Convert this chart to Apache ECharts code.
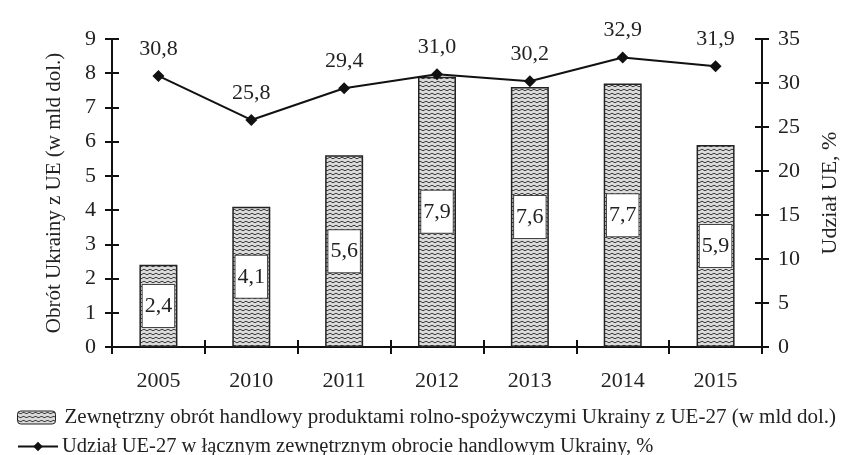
<!DOCTYPE html>
<html>
<head>
<meta charset="utf-8">
<script src="https://cdn.jsdelivr.net/npm/echarts@6/dist/echarts.min.js"></script>
<style>
html,body{margin:0;padding:0;background:#fff;}
#c{width:844px;height:455px;}
</style>
</head>
<body>
<div id="c"></div>
<script>
const years = ['2005','2010','2011','2012','2013','2014','2015'];
const tradeValues = [2.4, 4.1, 5.6, 7.9, 7.6, 7.7, 5.9];
const shareValues = [30.8, 25.8, 29.4, 31.0, 30.2, 32.9, 31.9];
const barName = 'Zewnętrzny obrót handlowy produktami rolno-spożywczymi Ukrainy z UE-27 (w mld dol.)';
const lineName = 'Udział UE-27 w łącznym zewnętrznym obrocie handlowym Ukrainy, %';
const leftTitle = 'Obrót Ukrainy z UE (w mld dol.)';
const rightTitle = 'Udział UE, %';

const FONT = '"Liberation Serif", "DejaVu Serif", serif';
const TXT = '#222';
const AX = '#111';

function makePattern() {
  const c = document.createElement('canvas');
  c.width = 6; c.height = 4;
  const ctx = c.getContext('2d');
  ctx.fillStyle = '#dcdcdc';
  ctx.fillRect(0, 0, 6, 4);
  ctx.strokeStyle = '#3a3a3a';
  ctx.lineWidth = 1;
  ctx.beginPath();
  ctx.moveTo(0, 1.2);
  ctx.lineTo(3, 2.8);
  ctx.lineTo(6, 1.2);
  ctx.stroke();
  return c;
}
const pattern = { image: makePattern(), repeat: 'repeat' };
const fmt = v => Number(v).toFixed(1).replace('.', ',');

const chart = echarts.init(document.getElementById('c'), null, { renderer: 'canvas' });

const yBase = (pos, max, interval, ticksInside, name, gap, nameSize) => ({
  type: 'value', position: pos, min: 0, max: max, interval: interval,
  axisLine: { show: !ticksInside, lineStyle: { color: AX, width: 2 } },
  axisTick: { show: true, inside: ticksInside, length: 7, lineStyle: { color: AX, width: 2 } },
  axisLabel: { show: !ticksInside, margin: 16, fontSize: 22, color: TXT, fontFamily: FONT },
  splitLine: { show: false },
  name: ticksInside ? '' : name,
  nameLocation: 'middle', nameGap: gap, nameRotate: 90,
  nameTextStyle: { fontSize: nameSize, color: TXT, fontFamily: FONT }
});

chart.setOption({
  animation: false,
  backgroundColor: '#fff',
  grid: { left: 112, right: 82, top: 39, bottom: 108, containLabel: false, outerBoundsMode: 'none' },
  xAxis: [
    {
      type: 'category', data: years, position: 'bottom',
      axisLine: { lineStyle: { color: AX, width: 2 } },
      axisTick: { show: true, inside: false, length: 7, lineStyle: { color: AX, width: 2 } },
      axisLabel: { margin: 23, fontSize: 22, color: TXT, fontFamily: FONT }
    },
    {
      type: 'category', data: years, position: 'bottom',
      axisLine: { show: false },
      axisTick: { show: true, inside: true, length: 7, lineStyle: { color: AX, width: 2 } },
      axisLabel: { show: false }
    }
  ],
  yAxis: [
    yBase('left', 9, 1, false, leftTitle, 47, 21),
    yBase('right', 35, 5, false, rightTitle, 57, 22),
    yBase('left', 9, 1, true, '', 0, 20),
    yBase('right', 35, 5, true, '', 0, 20)
  ],
  legend: [
    {
      data: [barName], left: 12, top: 402, orient: 'horizontal',
      itemWidth: 38, itemHeight: 13,
      itemStyle: { borderColor: '#222', borderWidth: 1 },
      textStyle: { fontSize: 21, color: TXT, fontFamily: FONT, padding: [0, 0, 0, 4] }
    },
    {
      data: [lineName], left: 12, top: 431, orient: 'horizontal',
      itemWidth: 40, itemHeight: 12,
      textStyle: { fontSize: 20.5, color: TXT, fontFamily: FONT, padding: [0, 0, 0, -1] }
    }
  ],
  series: [
    {
      name: barName, type: 'bar', xAxisIndex: 0, yAxisIndex: 0,
      data: tradeValues, barWidth: 38,
      itemStyle: { color: pattern, borderColor: '#222', borderWidth: 1.5 },
      label: {
        show: true, position: 'inside', formatter: p => fmt(p.value),
        backgroundColor: '#fff', borderColor: '#444', borderWidth: 1,
        padding: [11, 2, 9, 2], fontSize: 22, color: TXT, fontFamily: FONT
      }
    },
    {
      name: lineName, type: 'line', xAxisIndex: 0, yAxisIndex: 1,
      data: shareValues, symbol: 'diamond', symbolSize: 12,
      lineStyle: { color: '#111', width: 2 },
      itemStyle: { color: '#111' },
      label: {
        show: true, position: 'top', distance: 10, formatter: p => fmt(p.value),
        fontSize: 22, color: TXT, fontFamily: FONT
      }
    }
  ]
});
</script>
</body>
</html>
